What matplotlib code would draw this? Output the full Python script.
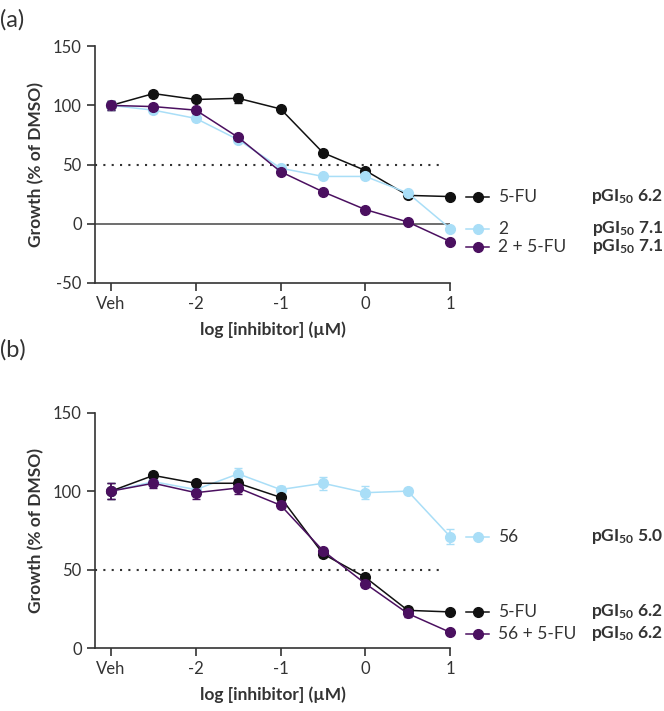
import numpy as np
import matplotlib
matplotlib.use("Agg")
import matplotlib.pyplot as plt
from matplotlib.transforms import blended_transform_factory

plt.rcParams["font.family"] = ["Lato", "DejaVu Sans"]
plt.rcParams["mathtext.fontset"] = "custom"
plt.rcParams["mathtext.rm"] = "Lato"
plt.rcParams["mathtext.bf"] = "Lato:bold"
plt.rcParams["axes.unicode_minus"] = False

# log concentration; -3 plotted as "Veh"
conc = [-3, -2.5, -2, -1.5, -1, -0.5, 0, 0.5, 1]
xticks = [-3, -2, -1, 0, 1]
xticklabels = ["Veh", "-2", "-1", "0", "1"]

# panel (a)
a_names = ["5-FU", "2", "2 + 5-FU"]
a_pgi = ["6.2", "7.1", "7.1"]
a_fu = [100, 110, 105, 106, 97, 60, 45, 24, 23]
a_fu_err = [4, 2, 2, 4, 2, 2, 2, 2, 1]
a_2 = [100, 96, 89, 71, 47, 40, 40, 26, -4]
a_2_err = [4, 2, 2, 2, 2, 2, 2, 1, 1]
a_combo = [100, 99, 96, 73, 44, 27, 12, 1.5, -15]
a_combo_err = [4, 2, 2, 2, 2, 1, 1, 1, 1]
a_label_y = [23, -4, -19.5]

# panel (b)
b_names = ["56", "5-FU", "56 + 5-FU"]
b_pgi = ["5.0", "6.2", "6.2"]
b_56 = [100, 106, 101, 111, 101, 105, 99, 100, 71]
b_56_err = [5, 3, 3, 4, 2, 4, 4, 2, 5]
b_fu = [100, 110, 105, 105, 96, 60, 45, 24, 23]
b_fu_err = [5, 2, 2, 3, 2, 2, 2, 2, 1]
b_combo = [100, 105, 99, 102, 91, 62, 41, 22, 10]
b_combo_err = [5, 3, 4, 4, 2, 2, 2, 2, 1]
b_label_y = [71, 23, 9]

C_BLACK = "#111111"
C_BLUE = "#a9def7"
C_PURPLE = "#4b1060"
TXT = "#333333"

fig = plt.figure(figsize=(6.64, 7.11), dpi=100)
ax_a = fig.add_axes([0.143, 0.602, 0.535, 0.333])
ax_b = fig.add_axes([0.143, 0.0886, 0.535, 0.331])


def panel(ax, series, names, pgis, label_y, ylim, yticks, zero_line):
    tr = blended_transform_factory(ax.transAxes, ax.transData)
    for (y, err, col), name, pgi, ly in zip(series, names, pgis, label_y):
        ax.errorbar(conc, y, yerr=err, color=col, marker="o", ms=7, lw=1.1,
                    capsize=3, elinewidth=1.1, zorder=3, clip_on=False)
        # end-of-line legend entry
        ax.plot([1.045, 1.11], [ly, ly], color=col, lw=1.1,
                transform=tr, clip_on=False)
        ax.plot([1.079], [ly], color=col, marker="o", ms=7,
                transform=tr, clip_on=False)
        ax.text(1.135, ly, name, transform=tr, ha="left", va="center",
                fontsize=12.5, color=TXT)
        ax.text(1.6, ly, r"$\mathbf{pGI_{50}}$ " + pgi, transform=tr,
                ha="right", va="center", fontsize=12.5, fontweight="bold",
                color=TXT)
    ax.plot([-3.19, 0.93], [50, 50], color="#333333", ls=(0, (1, 3)), lw=1.5,
            zorder=1)
    if zero_line:
        ax.plot([-3.19, 1], [0, 0], color="#555555", lw=1.2, zorder=1)
    ax.set_xlim(-3.19, 1)
    ax.set_ylim(*ylim)
    ax.set_yticks(yticks)
    ax.set_xticks(xticks)
    ax.set_xticklabels(xticklabels)
    ax.spines["top"].set_visible(False)
    ax.spines["right"].set_visible(False)
    for s in ("left", "bottom"):
        ax.spines[s].set_linewidth(1.2)
        ax.spines[s].set_color("#333333")
    ax.tick_params(length=6, width=1.2, colors="#333333", labelsize=12,
                   labelcolor=TXT)
    ax.set_ylabel("Growth (% of DMSO)", fontsize=12.5, fontweight="bold",
                  color=TXT, labelpad=6)
    ax.set_xlabel("log [inhibitor] (µM)", fontsize=12.5, fontweight="bold",
                  color=TXT, labelpad=7)


panel(ax_a, [(a_fu, a_fu_err, C_BLACK), (a_2, a_2_err, C_BLUE),
             (a_combo, a_combo_err, C_PURPLE)],
      a_names, a_pgi, a_label_y, (-50, 150), [-50, 0, 50, 100, 150], True)
panel(ax_b, [(b_56, b_56_err, C_BLUE), (b_fu, b_fu_err, C_BLACK),
             (b_combo, b_combo_err, C_PURPLE)],
      b_names, b_pgi, b_label_y, (0, 150), [0, 50, 100, 150], False)

fig.text(0.0, 0.972, "(a)", fontsize=17, color=TXT, va="center")
fig.text(0.0, 0.508, "(b)", fontsize=17, color=TXT, va="center")

fig.savefig("out.png", dpi=100)
